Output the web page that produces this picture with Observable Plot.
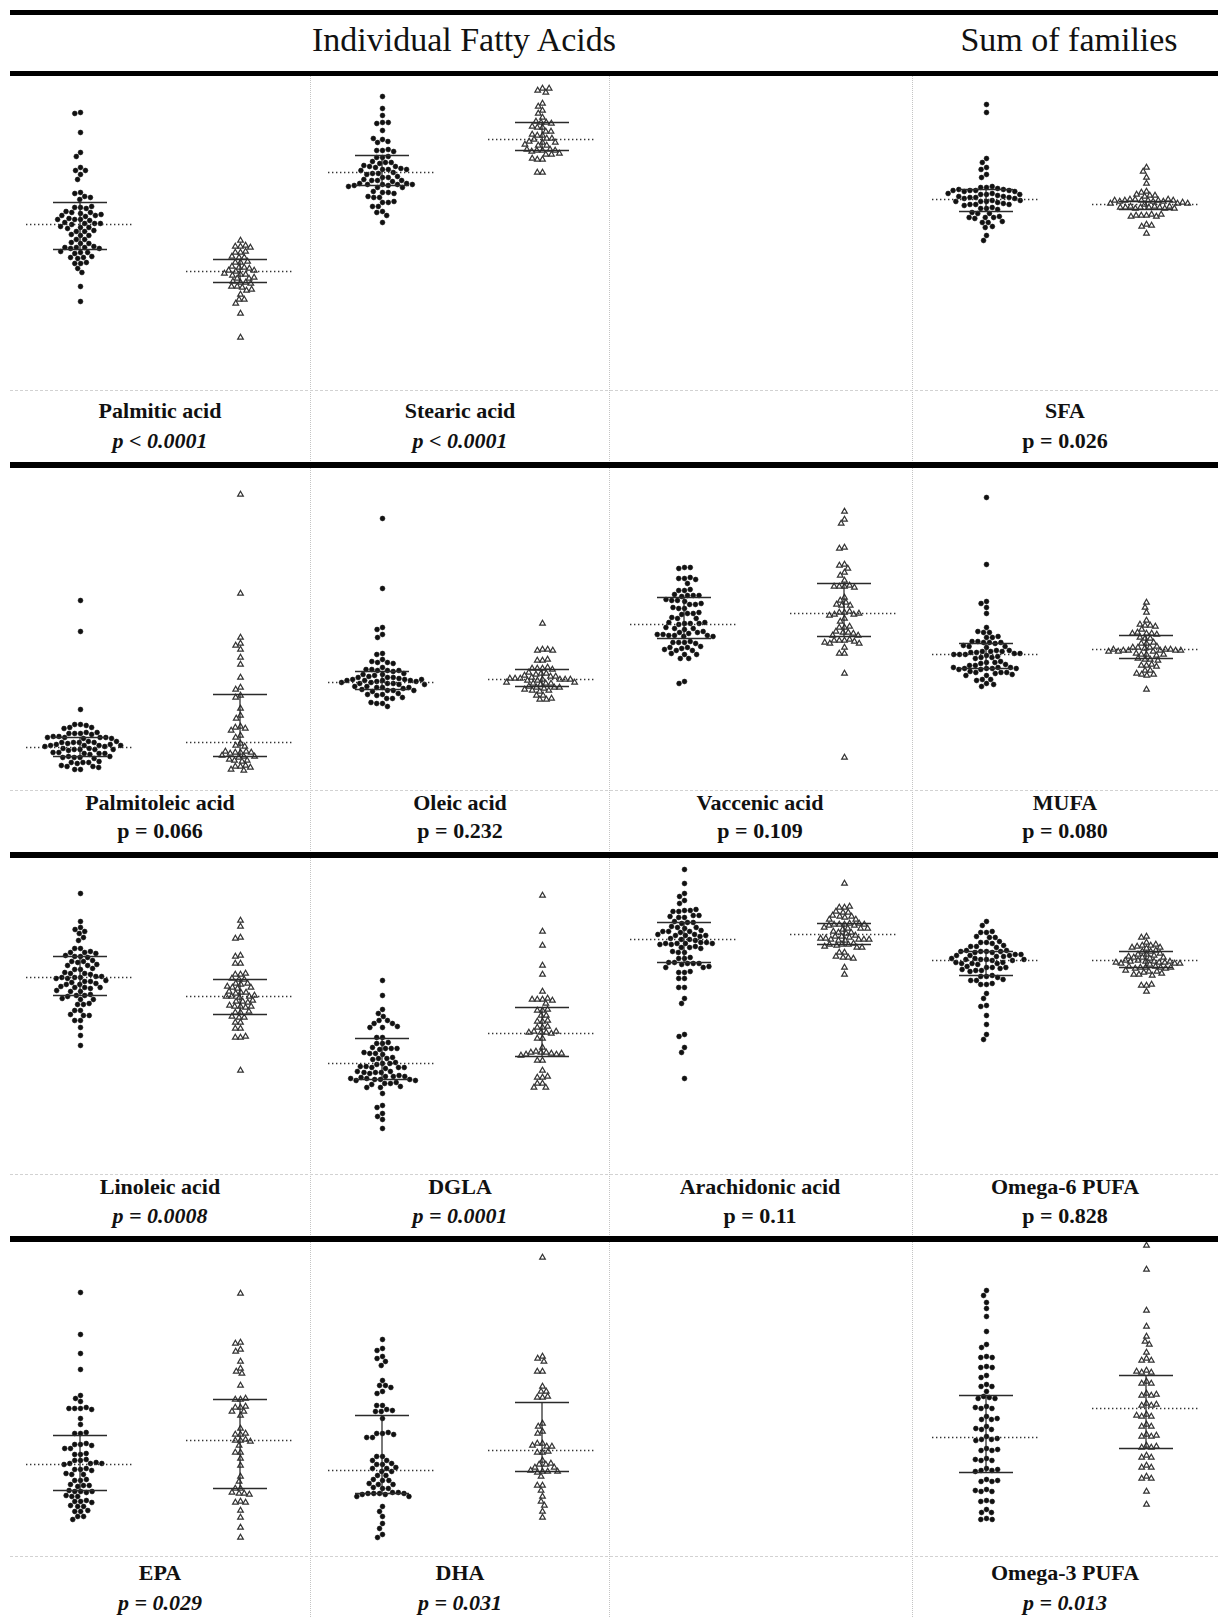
<!DOCTYPE html>
<html><head><meta charset="utf-8">
<script src="https://cdn.jsdelivr.net/npm/d3@7"></script>
<script src="https://cdn.jsdelivr.net/npm/@observablehq/plot@0.6"></script>
<style>
body{margin:0;background:#fff;}
#fig{position:relative;width:1218px;height:1617px;font-family:"Liberation Serif","Times New Roman",serif;overflow:hidden;background:#fff;}
.thick{position:absolute;left:10px;right:0;background:#000;z-index:5;}
.vsep{position:absolute;width:0;border-left:1px dotted #c4c4c4;}
.hsep{position:absolute;left:10px;right:0;height:0;border-top:1px dashed #d2d2d2;}
.lab{position:absolute;transform:translate(-50%,-50%);font-weight:bold;font-size:22px;white-space:nowrap;color:#111;}
.head{position:absolute;transform:translate(-50%,-50%);font-size:34px;white-space:nowrap;color:#111;}
.panel{position:absolute;}
.panel svg{overflow:visible;}
</style></head><body><div id="fig"></div><script>
const groups = ["Group 1", "Group 2"];
const panelNames = ["Palmitic acid","Stearic acid","SFA","Palmitoleic acid","Oleic acid","Vaccenic acid","MUFA","Linoleic acid","DGLA","Arachidonic acid","Omega-6 PUFA","EPA","DHA","Omega-3 PUFA"];
const pTexts = ["p < 0.0001","p < 0.0001","p = 0.026","p = 0.066","p = 0.232","p = 0.109","p = 0.080","p = 0.0008","p = 0.0001","p = 0.11","p = 0.828","p = 0.029","p = 0.031","p = 0.013"];
const pItalic = [true,true,false,false,false,false,false,true,true,false,false,true,true,true];
const panelRow = [0,0,0,1,1,1,1,2,2,2,2,3,3,3];
const panelCol = [0,1,3,0,1,2,3,0,1,2,3,0,1,3];
const headers = ["Individual Fatty Acids", "Sum of families"];

// values: estimated heights above each panel's baseline (arbitrary units, no axis in source)
const palmiticC = [278,277,258,238,234,223,220,220,216,211,198,197,194,193,191,183,183,182,184,178,178,179,177,175,175,176,174,171,171,172,170,171,167,167,168,166,167,163,163,164,162,159,159,160,155,155,156,151,151,147,147,148,143,143,144,142,143,142,138,138,139,137,133,133,134,132,127,127,128,122,118,104,89];
const palmiticT = [150,144,144,145,143,138,138,139,133,133,134,128,128,129,123,123,124,122,120,120,119,116,116,117,115,112,112,113,108,108,109,107,104,104,103,100,101,96,91,91,87,77,53];
const palmiticS = [[166,141,188],[119,108,131]];

const stearicC = [294,282,275,268,267,268,260,251,248,249,252,240,240,241,239,233,233,234,228,228,229,227,224,224,225,223,221,221,222,220,221,217,217,218,216,213,213,214,210,210,211,209,210,206,206,207,205,206,207,205,206,203,203,204,198,198,199,197,193,193,194,188,188,189,184,184,179,178,175,168];
const stearicT = [302,300,298,302,287,284,280,277,273,268,268,269,267,263,263,264,259,259,255,255,256,252,252,251,248,248,249,245,245,246,240,240,241,239,240,241,236,236,237,231,231,232,218,218];
const stearicS = [[218,205,235],[251,240,268]];

const sfaC = [286,278,232,228,223,221,216,213,203,203,204,202,200,200,201,199,200,201,199,200,196,196,197,195,196,197,193,193,194,192,193,194,192,189,189,190,188,189,190,186,186,187,185,186,182,182,183,181,177,177,178,173,173,174,172,173,168,168,169,163,164,155,150];
const sfaT = [223,219,213,207,199,198,195,195,194,196,190,190,191,189,190,191,189,190,191,190,189,190,187,187,188,186,187,183,183,184,182,183,184,182,183,184,183,182,175,175,176,174,175,176,174,166,164,165,157];
const sfaS = [[191,179,201],[186,181,189]];

const palmitoleicC = [190,159,81,66,66,65,63,63,62,57,57,58,56,57,58,53,53,54,52,53,54,52,53,48,48,49,47,48,49,48,45,45,46,44,45,46,44,45,41,41,42,40,41,42,41,37,37,38,36,37,38,33,33,34,32,33,34,28,28,29,27,28,24,24,25,23,21,21];
const palmitoleicT = [296,197,153,147,145,141,133,126,113,103,101,95,93,82,75,72,64,63,62,60,55,53,47,45,44,38,38,39,37,38,39,34,34,35,33,30,30,31,29,24,24,25,23,21,20];
const palmitoleicS = [[43,34,53],[48,34,96]];

const oleicC = [272,202,163,161,156,153,137,136,131,128,128,129,127,123,120,120,121,119,120,121,116,116,117,115,113,113,114,112,113,110,110,111,109,110,111,109,110,111,107,107,108,106,107,108,106,103,103,104,102,103,104,100,100,101,99,100,96,96,97,95,92,92,93,87,87,88,84];
const oleicT = [167,141,140,141,140,130,130,131,122,122,123,121,122,117,117,118,116,114,114,115,113,111,111,112,110,111,112,110,111,112,107,107,108,106,107,108,103,103,104,102,103,100,100,101,99,95,95,91,91,92];
const oleicS = [[108,101,119],[111,104,121]];

const vaccenicC = [223,222,223,212,212,213,211,207,200,200,201,195,195,196,194,195,190,190,191,189,186,186,187,182,182,183,177,177,178,176,172,172,173,167,167,168,166,167,168,162,162,163,161,158,158,159,157,155,155,156,154,155,156,154,148,148,149,147,148,143,143,144,142,140,140,141,136,136,137,132,132,109,107];
const vaccenicT = [279,271,267,243,242,226,225,222,218,215,210,204,204,205,203,204,193,190,188,185,185,186,178,178,179,176,176,177,175,172,169,163,163,164,158,158,159,157,155,155,150,150,151,149,150,147,147,148,143,137,137,117,33];
const vaccenicS = [[166,152,193],[177,154,207]];

const mufaC = [293,226,189,187,183,177,163,158,158,159,153,153,154,148,148,149,147,148,149,144,144,145,143,139,139,140,138,139,140,138,136,136,137,135,136,137,133,133,134,132,128,128,129,127,125,125,126,122,122,123,121,122,123,121,122,123,118,118,119,117,118,115,115,116,111,111,110,107,106,104];
const mufaT = [188,183,178,170,165,165,166,164,161,157,157,158,156,157,152,152,153,147,147,148,143,143,144,142,143,140,140,141,139,140,141,139,140,141,140,139,136,136,137,135,136,131,131,132,130,125,125,126,124,120,120,116,116,117,115,101];
const mufaS = [[136,122,147],[141,132,155]];

const linoleicC = [281,253,247,245,243,241,237,234,226,226,222,222,223,221,218,218,219,217,213,213,214,212,209,209,210,205,205,206,201,201,202,200,197,197,198,196,197,198,196,193,193,194,192,190,190,191,187,187,188,186,187,183,183,184,179,179,180,178,175,175,176,170,170,171,164,164,159,159,160,154,154,147,139,129];
const linoleicT = [254,248,237,236,219,218,211,211,200,200,201,195,195,196,191,191,190,187,187,188,186,182,182,183,181,178,178,179,177,178,173,173,174,172,168,168,169,167,168,162,162,163,157,157,158,152,152,146,146,137,137,138,104];
const linoleicS = [[197,179,218],[178,160,195]];

const dglaC = [194,179,165,161,158,154,154,151,151,147,147,148,137,137,131,131,132,126,126,127,125,126,121,121,122,120,116,116,117,115,111,111,112,110,107,107,108,106,107,108,102,102,103,101,102,103,98,98,99,97,98,95,95,96,94,95,96,94,91,91,92,90,87,87,88,81,69,67,61,58,55,46];
const dglaT = [279,243,229,209,200,183,175,175,176,174,175,171,164,164,165,159,159,153,153,154,147,147,148,142,142,143,141,142,143,136,136,127,122,122,123,121,122,120,120,121,119,114,114,104,97,97,98,91,91,87,87];
const dglaS = [[111,95,136],[141,118,167]];

const arachidonicC = [305,291,281,278,274,271,264,263,264,263,265,259,257,259,257,258,252,252,253,251,247,247,248,246,243,243,244,242,243,239,239,240,238,239,240,235,235,236,234,231,231,232,230,231,232,230,231,227,227,228,226,222,222,223,216,216,217,211,211,212,210,211,212,207,207,208,202,202,203,196,196,187,187,176,171,140,138,127,122,96];
const arachidonicT = [291,267,267,268,262,262,263,258,258,259,257,255,255,250,250,251,249,250,251,249,250,246,246,247,245,246,242,242,243,241,238,238,239,237,235,235,236,234,235,236,234,235,230,230,231,229,230,227,227,228,222,222,217,217,218,216,207,200];
const arachidonicS = [[235,212,252],[240,230,251]];

const omega6C = [253,249,242,242,243,237,237,238,232,232,233,231,228,228,229,227,223,223,224,222,223,224,222,223,219,219,220,218,219,220,218,215,215,216,214,215,216,214,215,211,211,212,210,211,212,207,207,208,206,207,204,204,205,203,198,198,199,197,194,194,195,190,190,191,181,176,169,168,159,150,140,135];
const omega6T = [238,237,232,229,229,230,228,227,227,226,223,223,224,220,220,221,219,217,217,218,216,217,213,213,214,212,213,214,212,213,211,211,212,210,211,207,207,208,206,207,208,206,207,203,203,204,202,200,200,201,199,189,189,190,183];
const omega6S = [[214,199,223],[214,207,223]];

const epaC = [264,222,203,187,161,158,155,148,148,149,147,148,138,132,123,123,124,112,112,113,111,108,108,102,102,103,96,96,97,93,93,94,92,93,87,87,88,86,82,82,83,76,76,77,71,71,72,70,65,65,66,64,65,60,60,61,55,55,56,54,50,50,51,45,45,46,40,40,37];
const epaT = [263,214,213,207,205,195,188,185,183,171,157,157,158,149,149,150,145,145,141,128,122,122,123,116,116,117,115,111,104,104,98,91,80,75,68,68,63,63,64,62,55,54,54,46,39,29,19];
const epaS = [[92,66,121],[116,68,157]];

const dhaC = [217,208,206,200,198,195,191,176,171,171,169,165,163,151,151,147,145,145,146,138,123,123,124,122,119,119,100,100,96,96,92,92,93,88,88,89,85,85,81,81,76,76,77,72,72,73,68,68,69,63,63,64,62,63,64,62,63,60,60,50,45,40,33,28,22,19];
const dhaT = [299,200,198,195,185,185,170,165,165,159,159,160,133,130,125,123,113,113,110,110,111,104,104,105,96,92,92,93,89,89,85,85,86,84,85,80,71,71,66,60,55,51,45,39];
const dhaS = [[86,63,141],[106,85,154]];

const omega3C = [266,261,254,248,240,225,212,209,200,199,199,190,189,189,181,179,172,170,170,165,160,159,158,158,150,148,148,149,140,137,137,138,130,127,127,128,120,117,117,118,116,108,106,106,107,98,96,96,97,88,86,86,87,85,77,75,75,76,67,65,65,66,56,55,55,47,44,44,38,37,37];
const omega3T = [311,287,246,230,220,215,212,204,198,196,196,186,184,184,185,175,173,173,163,161,161,162,153,151,151,152,142,140,140,141,132,130,130,122,120,120,121,111,109,109,110,101,99,99,91,89,89,80,78,78,65,52];
const omega3S = [[119,84,161],[148,108,181]];

const panelData = [
  [palmiticC, palmiticT, palmiticS], [stearicC, stearicT, stearicS], [sfaC, sfaT, sfaS],
  [palmitoleicC, palmitoleicT, palmitoleicS], [oleicC, oleicT, oleicS], [vaccenicC, vaccenicT, vaccenicS], [mufaC, mufaT, mufaS],
  [linoleicC, linoleicT, linoleicS], [dglaC, dglaT, dglaS], [arachidonicC, arachidonicT, arachidonicS], [omega6C, omega6T, omega6S],
  [epaC, epaT, epaS], [dhaC, dhaT, dhaS], [omega3C, omega3T, omega3S]
];

// ---------- layout ----------
const fig = document.getElementById("fig");
const rowTop = [76, 468, 858, 1242];
const rowBase = [390, 790, 1174, 1556];
const nameY = [411, 803, 1187, 1573];
const pY = [441, 831, 1216, 1603];
const colLeft = [0, 302, 604, 906];
const colCenter = [160, 460, 760, 1065];

function el(cls, css, txt) {
  const d = document.createElement("div");
  d.className = cls;
  Object.assign(d.style, css);
  if (txt != null) d.textContent = txt;
  fig.appendChild(d);
  return d;
}

// light grid
[310, 609, 912].forEach(x => el("vsep", {left: x + "px", top: "76px", height: "1541px"}));
rowBase.forEach(y => el("hsep", {top: y + "px"}));
// thick rules
[[10,5],[71,5],[462,6],[852,6],[1236,6]].forEach(([t,h]) => el("thick", {top: t + "px", height: h + "px"}));
// headers
el("head", {left: "464px", top: "40px"}, headers[0]);
el("head", {left: "1069px", top: "40px"}, headers[1]);

function panelPlot(circ, tri, stats, H) {
  const c = circ.map(v => ({g: groups[0], v}));
  const t = tri.map(v => ({g: groups[1], v}));
  const st = stats.map((s, i) => ({g: groups[i], med: s[0], q1: s[1], q3: s[2]}));
  return Plot.plot({
    width: 320, height: H, margin: 0,
    style: {background: "transparent", overflow: "visible"},
    fx: {domain: groups, padding: 0, axis: null, label: null},
    y: {domain: [0, H], axis: null},
    marks: [
      Plot.dot(c, Plot.dodgeX("middle", {fx: "g", y: "v", r: 2.4, padding: 0.3, fill: "#111", stroke: "#111", strokeWidth: 0.6})),
      Plot.dot(t, Plot.dodgeX("middle", {fx: "g", y: "v", r: 2.1, padding: 0.4, symbol: "triangle", fill: "white", stroke: "#333", strokeWidth: 1.2})),
      Plot.rect(st, {fx: "g", y1: "q1", y2: "q3", insetLeft: 79.4, insetRight: 79.4, fill: "#222"}),
      Plot.ruleY(st, {fx: "g", y: "med", insetLeft: 26, insetRight: 26, stroke: "#333", strokeWidth: 1.3, strokeDasharray: "1.4,2.6"}),
      Plot.ruleY(st, {fx: "g", y: "q1", insetLeft: 53, insetRight: 53, stroke: "#2a2a2a", strokeWidth: 1.6}),
      Plot.ruleY(st, {fx: "g", y: "q3", insetLeft: 53, insetRight: 53, stroke: "#2a2a2a", strokeWidth: 1.6})
    ]
  });
}

panelNames.forEach((name, i) => {
  const r = panelRow[i], cidx = panelCol[i];
  const H = rowBase[r] - rowTop[r];
  const [circ, tri, stats] = panelData[i];
  const holder = el("panel", {left: colLeft[cidx] + "px", top: rowTop[r] + "px", width: "320px", height: H + "px"});
  holder.appendChild(panelPlot(circ, tri, stats, H));
  el("lab", {left: colCenter[cidx] + "px", top: nameY[r] + "px"}, name);
  el("lab", {left: colCenter[cidx] + "px", top: pY[r] + "px", fontStyle: pItalic[i] ? "italic" : "normal"}, pTexts[i]);
});
</script></body></html>
